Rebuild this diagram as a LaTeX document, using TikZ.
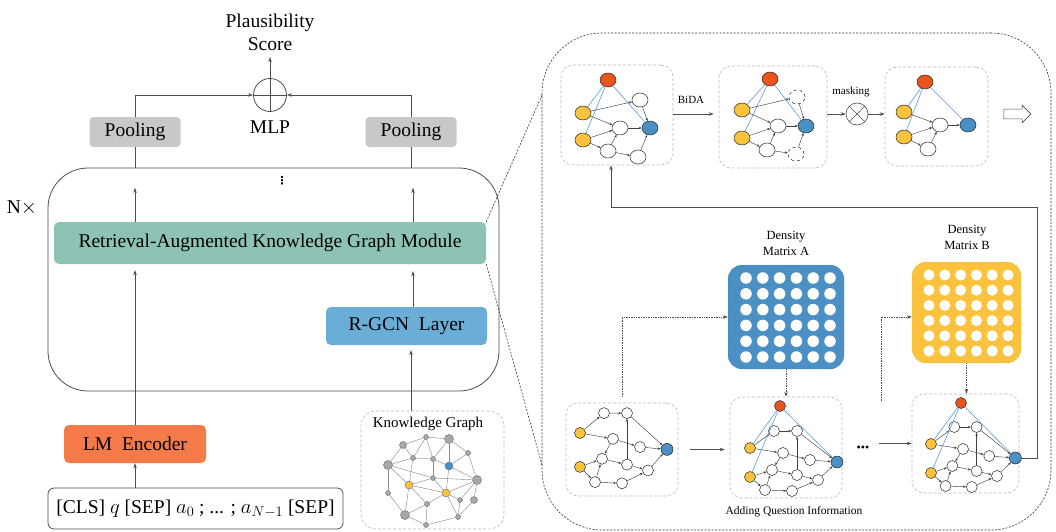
\documentclass[tikz,border=0pt]{standalone}
\usepackage{amsmath}
\usepackage{fontspec}
\setmainfont{Liberation Serif}
\newfontfamily\symbolfont{DejaVu Sans}
\usetikzlibrary{arrows.meta, positioning, shapes.geometric, shapes.arrows, calc}
\definecolor{lmorange}{HTML}{F47A4A}
\definecolor{rgcnblue}{HTML}{6AADD6}
\definecolor{modgreen}{HTML}{8EC2B4}
\definecolor{poolgray}{HTML}{C8C8C8}
\definecolor{qnred}{HTML}{E8561E}
\definecolor{ansyellow}{HTML}{FBC23E}
\definecolor{entblue}{HTML}{4A90C4}
\definecolor{relblue}{HTML}{5B9BD8}
\definecolor{linegray}{HTML}{4D4D4D}
\definecolor{kggray}{HTML}{A8A8A8}

% one small question/answer graph (bottom row of the panel)
\newcommand{\qagraph}[4]{%
  \begin{scope}[shift={#2}, xscale=#3, yscale=#4]
    \node[gnode=ansyellow] (#1y1) at (0,0) {};
    \node[gnode=ansyellow] (#1y2) at (0,-29) {};
    \node[gnode] (#1a) at (24,17) {};
    \node[gnode] (#1b) at (47,17) {};
    \node[gnode] (#1c) at (33,-5) {};
    \node[gnode] (#1d) at (60,-12) {};
    \node[gnode=entblue, minimum size=12pt] (#1z) at (87,-14) {};
    \node[gnode] (#1e) at (22,-22) {};
    \node[gnode] (#1f) at (47,-27) {};
    \node[gnode] (#1g) at (68,-32) {};
    \node[gnode] (#1h) at (15,-42) {};
    \node[gnode] (#1i) at (42,-43) {};
    \foreach \u/\v in {y1/a,a/b,b/z,y1/c,c/d,d/z,c/e,y2/e,y2/h,h/e,e/f,f/b,f/g,h/i,i/g,g/z}
      \draw[g arrow] (#1\u) -- (#1\v);
  \end{scope}}

\begin{document}
\begin{tikzpicture}[
    x=1pt, y=1pt,
    font=\fontsize{19.5}{23}\selectfont,
    >={Stealth[length=5pt, width=3.5pt]},
    % ── shared styles ──
    block/.style={rounded corners=5pt, inner sep=0pt, text=black},
    pool box/.style={block, fill=poolgray, rounded corners=4pt,
        minimum width=91pt, minimum height=30pt},
    flow/.style={->, draw=linegray, line width=0.7pt},
    plain line/.style={draw=linegray, line width=0.7pt},
    dot flow/.style={->, draw=linegray, line width=0.7pt, densely dotted},
    zoom line/.style={draw=black!80, line width=0.6pt, dash pattern=on 2pt off 1.5pt},
    graph frame/.style={draw=black!28, line width=0.6pt, dash pattern=on 3pt off 2pt,
        rounded corners=12pt},
    gnode/.style={circle, draw=black!85, line width=0.5pt, fill=#1,
        minimum size=11pt, inner sep=0pt},
    gnode/.default=white,
    top node/.style={ellipse, draw=black!85, line width=0.5pt, fill=#1,
        minimum width=16pt, minimum height=14pt, inner sep=0pt},
    top node/.default=white,
    g arrow/.style={-{Stealth[length=3pt, width=2.4pt]}, draw=black!75, line width=0.45pt},
    rel line/.style={draw=relblue, line width=0.6pt},
    kg node/.style={circle, draw=black!60, line width=0.4pt, fill=kggray,
        minimum size=#1, inner sep=0pt},
    kg node/.default=5pt,
    kg edge/.style={draw=black!45, line width=0.45pt},
    mat cell/.style={circle, fill=white, minimum size=#1, inner sep=0pt},
    small label/.style={font=\fontsize{11}{13}\selectfont},
]
\useasboundingbox (0,0) rectangle (1056,-532);

% ══════════════════════════════════════════════════════════════════════
%  LEFT: encoder stack
% ══════════════════════════════════════════════════════════════════════
\node[draw=linegray, line width=0.8pt, rounded corners=40pt,
      minimum width=451pt, minimum height=223pt] (layer) at (273.5,-279.5) {};
\node[pool box] (poolL) at (135,-132) {Pooling};
\node[pool box] (poolR) at (411,-132) {Pooling};
\node[circle, draw=linegray, line width=0.8pt, minimum size=33pt] (mlp) at (270,-95) {};
\draw[plain line] (mlp.north) -- (mlp.south) (mlp.west) -- (mlp.east);
\node[anchor=south, align=center, inner sep=0pt] (score) at (270,-51) {Plausibility\\Score};
\node (mlptext) at (270,-127) {MLP};
\node (ntimes) at (22,-208) {N$\times$};
\node[font=\symbolfont\bfseries\fontsize{11}{11}\selectfont, inner sep=0pt] (stackdots)
    at (282,-181) {⋮};

\node[block, fill=modgreen, minimum width=432pt, minimum height=42pt] (rkg) at (270,-243)
    {Retrieval-Augmented Knowledge Graph Module};
\node[block, fill=rgcnblue, minimum width=161pt, minimum height=38pt] (rgcn) at (406.5,-326)
    {R-GCN\ \ Layer};
\node[block, fill=lmorange, minimum width=142pt, minimum height=38pt] (lm) at (135,-444)
    {LM\ \ Encoder};
\node[block, draw=linegray, line width=0.8pt, rounded corners=6pt,
      minimum width=295pt, minimum height=41pt] (input) at (195.5,-508.5)
    {[CLS] $q$ [SEP] $a_0$ ; ... ; $a_{N-1}$ [SEP]};
\node[graph frame, rounded corners=15pt, minimum width=143pt, minimum height=118pt] (kg)
    at (432.5,-470) {};
\node[font=\fontsize{15}{17}\selectfont] (kglabel) at (428,-424) {Knowledge Graph};

% ── connectors ──
\draw[flow] (poolL.north) |- (mlp.west);
\draw[flow] (poolR.north) |- (mlp.east);
\draw[flow] (mlp.north) -- ([yshift=-6pt]score.south);
\draw[plain line] (poolL.south) -- (poolL.south |- layer.north);
\draw[plain line] (poolR.south) -- (poolR.south |- layer.north);
\draw[flow] (rkg.north -| poolL) -- ++(0,34);
\draw[flow] ([xshift=2pt]rkg.north -| poolR) -- ++(0,34);
\draw[flow, shorten >=6pt] (lm.north) -- (lm.north |- rkg.south);
\draw[flow, shorten >=7pt] ([xshift=2pt]rgcn.north -| poolR) -- ([xshift=2pt]rkg.south -| poolR);
\draw[flow, shorten >=5pt] (kg.north -| poolR) -- (rgcn.south -| poolR);
\draw[flow] (input.north -| lm) -- (lm.south);

% ── knowledge graph ──
\node[kg node] (k1) at (426,-437) {};
\node[kg node=9pt] (k2) at (449,-439) {};
\node[kg node=7pt] (k3) at (403,-445) {};
\node[kg node] (k4) at (468,-453) {};
\node[kg node] (k5) at (413,-458) {};
\node[kg node] (k6) at (433,-459) {};
\node[kg node=8pt, fill=entblue] (k7) at (449,-466) {};
\node[kg node=9pt] (k8) at (388,-465) {};
\node[kg node] (k9) at (433,-478) {};
\node[kg node=9pt] (k10) at (477,-480) {};
\node[kg node=8pt, fill=ansyellow] (k11) at (409,-485) {};
\node[kg node=8pt, fill=ansyellow] (k12) at (446,-493) {};
\node[kg node] (k13) at (388,-493) {};
\node[kg node] (k14) at (460,-500) {};
\node[kg node=7pt] (k15) at (474,-500) {};
\node[kg node] (k16) at (427,-504) {};
\node[kg node=9pt] (k17) at (405,-515) {};
\node[kg node] (k18) at (458,-517) {};
\node[kg node] (k19) at (426,-525) {};
\foreach \u/\v in {3/1,1/2,2/4,2/7,4/7,4/10,3/8,3/5,1/5,1/6,5/6,6/2,6/7,5/8,8/9,8/13,
                   8/11,5/11,6/9,9/11,9/12,7/12,7/10,10/12,9/10,10/14,10/15,11/12,11/16,
                   11/17,13/17,12/16,12/14,12/18,14/18,15/18,16/17,16/19,17/19,19/18}
  \draw[kg edge] (k\u) -- (k\v);

% ══════════════════════════════════════════════════════════════════════
%  RIGHT: zoomed module panel
% ══════════════════════════════════════════════════════════════════════
\node[zoom line, rounded corners=60pt, minimum width=509pt, minimum height=497pt]
    (panel) at (796.5,-281.5) {};
\coordinate (zoomT) at (542,-95);
\coordinate (zoomB) at (542,-465);
\draw[zoom line] (rkg.north east) -- (zoomT);
\draw[zoom line] (rkg.south east) -- (zoomB);

% ── top row: BiDA and masking ──
\node[graph frame, minimum width=112pt, minimum height=100pt] (tbox1) at (617,-115) {};
\node[graph frame, minimum width=108pt, minimum height=102pt] (tbox2) at (773,-117) {};
\node[graph frame, minimum width=103pt, minimum height=99pt] (tbox3) at (936.5,-116.5) {};

\node[top node=qnred] (t1r) at (608,-80) {};
\node[top node=ansyellow] (t1y1) at (583,-113) {};
\node[top node=ansyellow] (t1y2) at (583,-140) {};
\node[top node] (t1a) at (640,-100) {};
\node[top node] (t1b) at (620,-128) {};
\node[top node=entblue] (t1e) at (650,-128) {};
\node[top node] (t1c) at (608,-151) {};
\node[top node] (t1d) at (638,-157) {};

\node[top node=qnred] (t2r) at (770,-79) {};
\node[top node=ansyellow] (t2y1) at (742,-110) {};
\node[top node=ansyellow] (t2y2) at (742,-138) {};
\node[top node, dashed] (t2a) at (797,-97) {};
\node[top node] (t2b) at (778,-126) {};
\node[top node=entblue] (t2e) at (806,-126) {};
\node[top node] (t2c) at (767,-150) {};
\node[top node, dashed] (t2d) at (796,-154) {};

\foreach \g in {t1,t2} {
  \foreach \v in {y1,y2,e} \draw[rel line] (\g r) -- (\g\v);
  \foreach \u/\v in {y1/a,y1/b,y2/b,y2/c,c/b,c/d,d/e,b/e,a/e}
    \draw[g arrow] (\g\u) -- (\g\v);
}

\node[top node=qnred] (t3r) at (925,-82) {};
\node[top node=ansyellow] (t3y1) at (904,-112) {};
\node[top node=ansyellow] (t3y2) at (904,-137) {};
\node[top node] (t3b) at (940,-125) {};
\node[top node=entblue] (t3e) at (968,-125) {};
\node[top node] (t3c) at (928,-149) {};
\foreach \v in {y1,y2,e} \draw[rel line] (t3r) -- (t3\v);
\foreach \u/\v in {y1/b,y2/b,y2/c,c/b,b/e}
  \draw[g arrow] (t3\u) -- (t3\v);

\node[circle, draw=linegray, line width=0.6pt, minimum size=22pt] (mask) at (857,-114) {};
\draw[plain line, line width=0.5pt] (mask.north east) -- (mask.south west)
    (mask.north west) -- (mask.south east);
\node[small label] (bida) at (691,-100) {BiDA};
\node[small label] (masking) at (851,-92) {masking};
\draw[flow, shorten >=5pt] (tbox1.east |- mask.west) -- (tbox2.west |- mask.west);
\draw[flow] (tbox2.east |- mask.west) -- (mask.west);
\draw[flow] (mask.east) -- (tbox3.west |- mask.east);
\node[single arrow, draw=linegray, line width=0.6pt, fill=white, inner xsep=6pt,
      inner ysep=4.5pt, minimum height=27pt, single arrow head extend=4pt] (next)
    at (1015,-114) {};

% ── bottom row: density matrices ──
\node[block, fill=entblue, draw=entblue!70!black, densely dotted, rounded corners=14pt,
      minimum width=116pt, minimum height=104pt] (matA) at (786,-317) {};
\foreach \i in {0,...,5}
  \foreach \j in {0,...,5}
    \node[mat cell=11.5pt] (ca\i\j) at ({746+16.8*\i},{-278-15.8*\j}) {};
\node[block, fill=ansyellow, draw=ansyellow!80!black, densely dotted, rounded corners=14pt,
      minimum width=109pt, minimum height=101pt] (matB) at (966.5,-312.5) {};
\foreach \i in {0,...,5}
  \foreach \j in {0,...,5}
    \node[mat cell=11pt] (cb\i\j) at ({929+15.8*\i},{-275-15.2*\j}) {};
\node[align=center, font=\fontsize{12.5}{16}\selectfont] (labA) at (786,-243) {Density\\Matrix A};
\node[align=center, font=\fontsize{12.5}{16}\selectfont] (labB) at (967,-237) {Density\\Matrix B};

\node[graph frame, minimum width=112pt, minimum height=93pt] (bbox1) at (622,-449.5) {};
\node[graph frame, minimum width=112pt, minimum height=101pt] (bbox2) at (786,-447.5) {};
\node[graph frame, minimum width=107pt, minimum height=99pt] (bbox3) at (965.5,-443.5) {};

\qagraph{b1}{(580,-433)}{1}{1.17}
\qagraph{b2}{(750,-448)}{1}{1}
\qagraph{b3}{(931,-444)}{0.97}{1}
\node[gnode=qnred] (b2r) at (780,-406) {};
\node[gnode=qnred] (b3r) at (961,-403) {};
\foreach \g in {b2,b3}
  \foreach \v in {y1,y2,z} \draw[rel line] (\g r) -- (\g\v);

\node[font=\fontsize{11.5}{13}\selectfont] (addq) at (794,-512)
    {Adding Question Information};
\node[font=\fontsize{12}{12}\selectfont, inner sep=1pt] (bdots) at (863,-449) {•••};

\draw[flow, shorten <=12pt, shorten >=5pt] (bbox1.east) -- (bbox1.east -| bbox2.west);
\draw[flow, shorten <=8pt] (bbox3.west -| bdots.east) -- (bbox3.west);
\draw[dot flow, shorten <=6pt] (bbox1.north) |- (matA.west);
\draw[dot flow] (matA.south) -- (matA.south |- bbox2.north);
\coordinate (kick) at (881,-401);
\draw[dot flow] (kick) |- (matA.west -| matB.west);
\draw[dot flow] (matB.south) -- (matB.south |- bbox3.north);

% ── feedback to the first graph ──
\coordinate (fbR) at (1037,-207);
\draw[flow] (b3z.east) -- (b3z.east -| fbR) -- (fbR) -| ([xshift=-6pt]tbox1.south);

\end{tikzpicture}
\end{document}
